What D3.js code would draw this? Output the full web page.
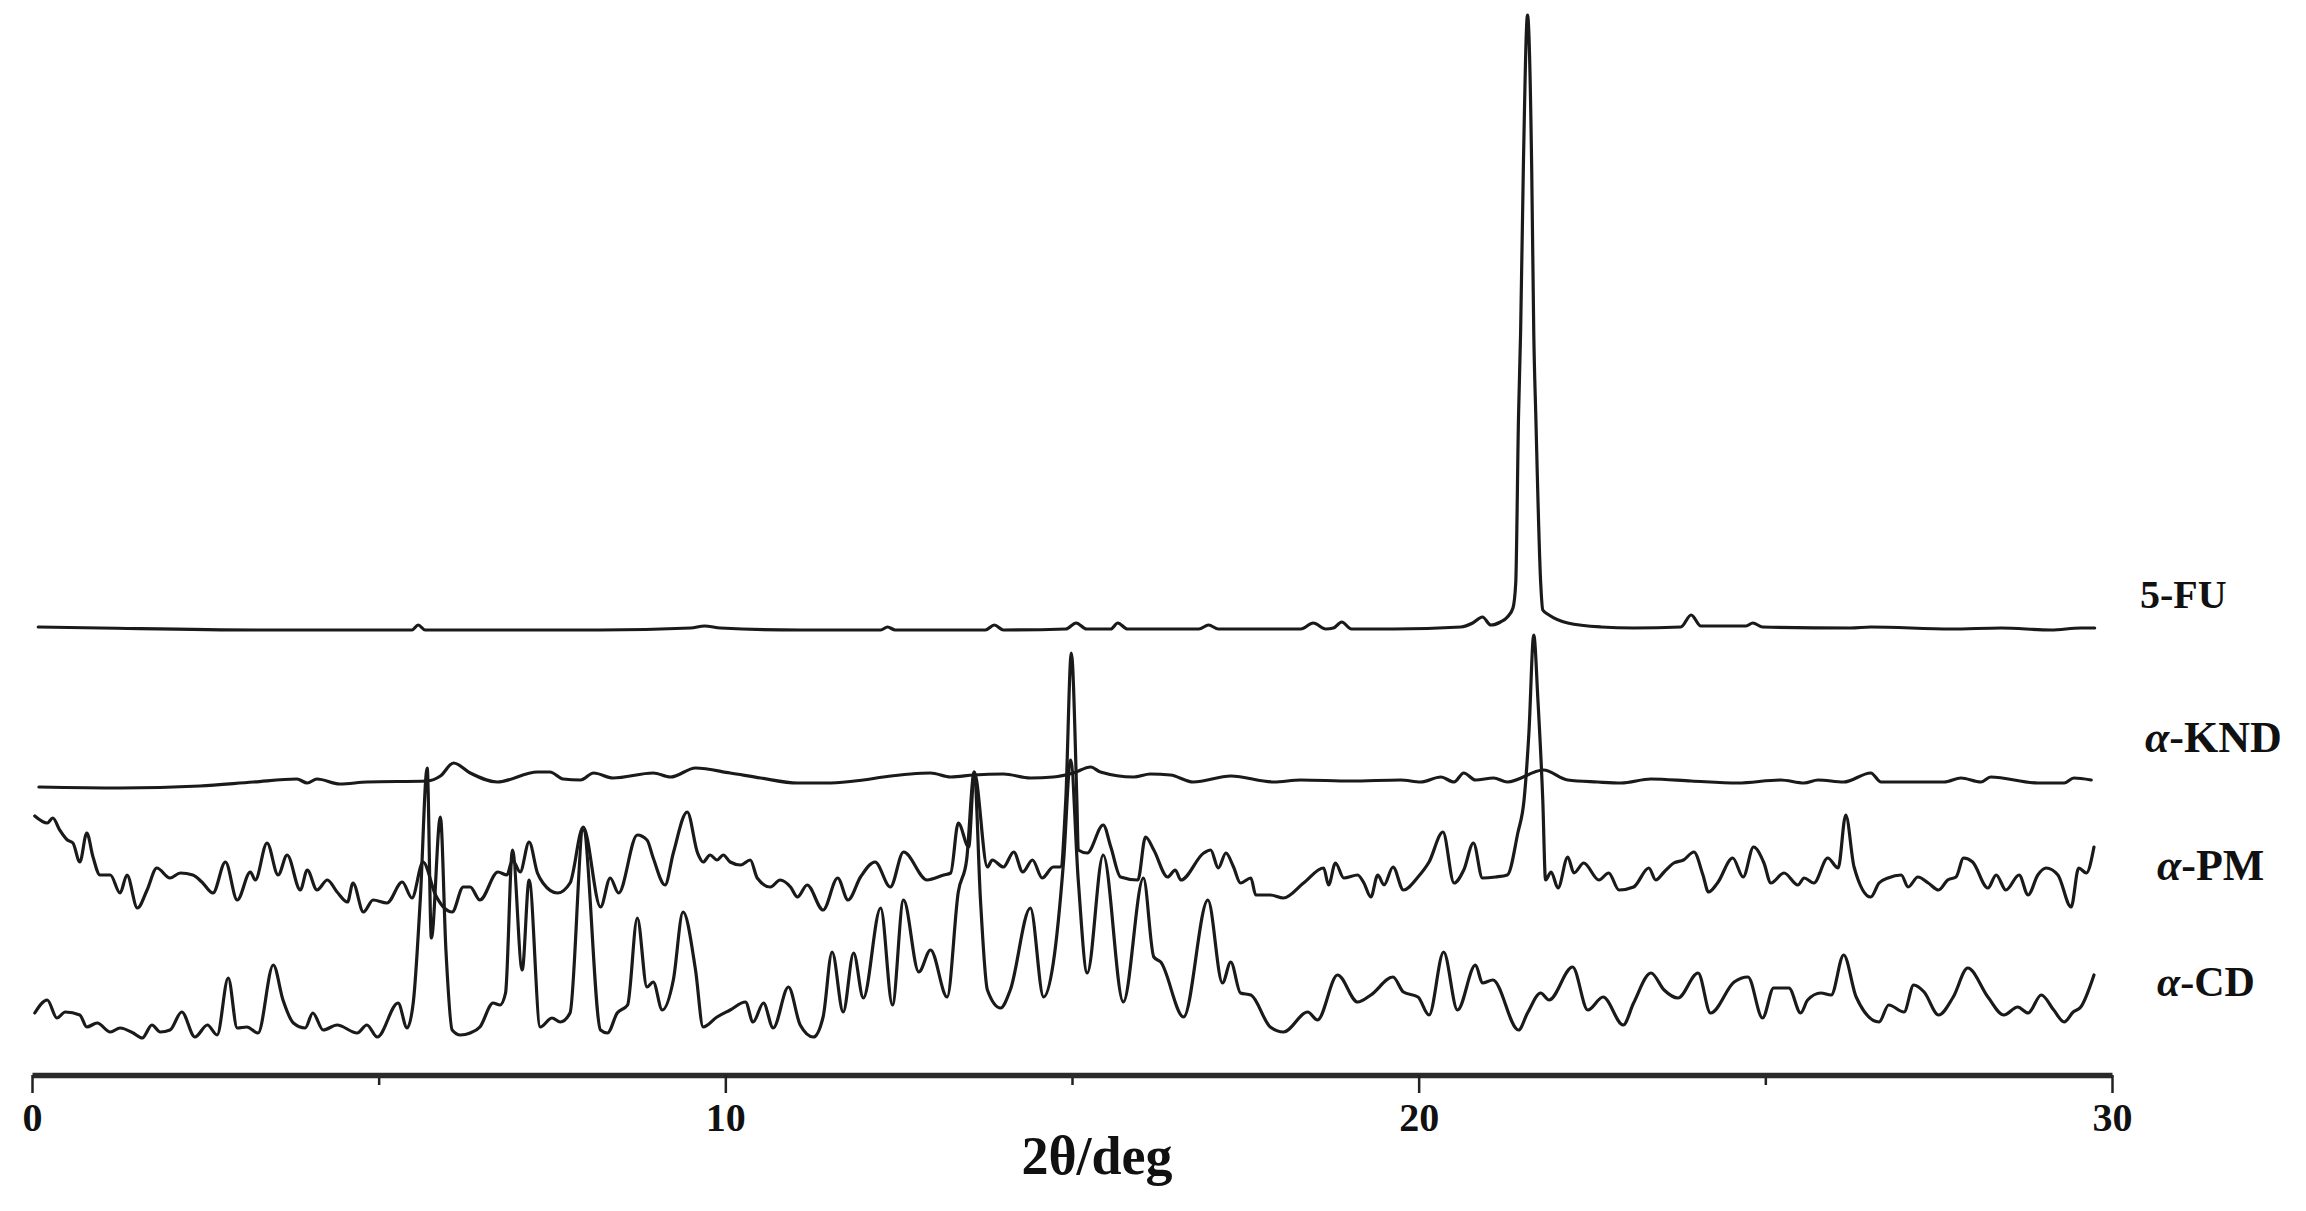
<!DOCTYPE html>
<html>
<head>
<meta charset="utf-8">
<script src="https://cdn.jsdelivr.net/npm/d3@7"></script>
<style>
  html, body { margin: 0; padding: 0; background: #fff; }
  svg { display: block; }
</style>
</head>
<body>
<svg id="chart" width="2306" height="1211"></svg>
<script>
// ---------------- DATA (2θ in degrees, intensity in arbitrary units) ----------------
const seriesNames = ["5-FU", "α-KND", "α-PM", "α-CD"];
const seriesOffsets = [440, 280, 150, 20];   // vertical stacking offsets (a.u.)

const xTicksMajor = [0, 10, 20, 30];
const xTicksMinor = [5, 15, 25];
const xTitle = "2θ/deg";

const fu5 = [
  [0.09,8],[0.98,7],[3.22,5],[5.31,5],[5.48,5],[5.57,10],[5.67,5],[8.20,5],[9.50,7],[9.70,9],[9.93,7],
  [11.08,5],[12.24,5],[12.34,8],[12.45,5],[13.75,5],[13.88,10],[14.01,5],[14.91,6],[15.06,12],[15.21,6],
  [15.56,6],[15.66,12],[15.80,6],[16.83,6],[16.97,10],[17.11,6],[18.30,6],[18.48,12],[18.66,6],[18.77,7],
  [18.89,13],[19.03,6],[19.64,6],[20.61,8],[20.78,12],[20.92,18],[21.04,10],[21.18,13],[21.28,18],[21.36,27],
  [21.40,52],[21.44,218],[21.47,302],[21.51,468],[21.57,620],[21.63,468],[21.66,302],[21.69,218],[21.76,52],
  [21.79,25],[21.88,20],[22.15,12],[22.63,8],[23.10,7],[23.78,8],[23.93,20],[24.07,9],[24.72,9],[24.82,12],
  [24.96,8],[26.23,7],[26.52,8],[27.68,6],[28.40,7],[29.12,5],[29.55,7],[29.75,7]
];

const knd = [
  [0.10,8],[1.27,7],[2.42,9],[3.19,13],[3.82,16],[3.97,12],[4.11,16],[4.44,11],[4.83,13],[5.70,14],[5.89,19],
  [6.08,32],[6.32,22],[6.71,13],[7.29,23],[7.47,23],[7.66,16],[7.91,15],[8.10,22],[8.38,17],[8.96,22],[9.21,18],
  [9.57,27],[10.07,22],[10.51,17],[11.04,12],[11.52,12],[11.99,15],[12.28,18],[12.96,22],[13.25,18],[13.58,20],
  [14.01,21],[14.40,17],[14.73,18],[15.02,22],[15.27,28],[15.41,23],[15.89,18],[16.13,21],[16.42,20],[16.75,13],
  [17.29,19],[17.91,13],[18.30,15],[19.02,14],[19.74,15],[20.03,13],[20.32,18],[20.51,13],[20.65,22],[20.82,15],
  [21.08,17],[21.28,13],[21.80,25],[22.15,15],[22.58,13],[22.92,12],[23.35,16],[23.93,14],[24.60,12],[25.22,15],
  [25.56,12],[25.76,15],[26.13,13],[26.52,22],[26.67,13],[27.58,13],[27.82,17],[28.11,13],[28.25,18],[28.93,12],
  [29.31,12],[29.45,17],[29.70,15]
];

const pm = [
  [0.04,109],[0.22,102],[0.30,107],[0.40,95],[0.51,85],[0.59,82],[0.69,63],[0.79,92],[0.88,68],[0.98,50],[1.13,50],
  [1.27,32],[1.37,50],[1.52,17],[1.66,35],[1.80,57],[1.99,47],[2.14,52],[2.32,50],[2.45,43],[2.61,32],[2.79,63],
  [2.96,25],[3.15,53],[3.22,45],[3.39,82],[3.55,50],[3.68,70],[3.87,35],[3.97,55],[4.11,35],[4.26,45],[4.40,33],
  [4.55,23],[4.63,42],[4.78,13],[4.92,25],[5.12,22],[5.34,43],[5.48,27],[5.64,63],[5.82,30],[6.06,13],[6.22,38],
  [6.32,38],[6.46,25],[6.72,53],[6.85,50],[6.93,65],[7.04,53],[7.17,83],[7.29,52],[7.37,42],[7.58,32],[7.76,42],
  [7.95,98],[8.20,18],[8.34,47],[8.46,32],[8.73,90],[8.87,85],[8.96,67],[9.13,40],[9.25,72],[9.45,113],[9.60,72],
  [9.68,63],[9.78,70],[9.88,65],[9.97,70],[10.07,63],[10.22,60],[10.36,65],[10.46,47],[10.65,38],[10.79,45],
  [10.94,38],[11.04,28],[11.18,40],[11.41,15],[11.62,47],[11.77,25],[11.95,48],[12.16,63],[12.38,38],[12.57,73],
  [12.91,45],[13.15,50],[13.25,52],[13.36,102],[13.51,78],[13.59,153],[13.78,58],[13.85,65],[14.01,58],[14.16,73],
  [14.29,53],[14.43,65],[14.57,47],[14.73,58],[14.83,58],[14.91,125],[14.99,272],[15.07,125],[15.09,75],[15.22,72],
  [15.45,100],[15.56,78],[15.70,48],[15.95,45],[16.06,88],[16.18,75],[16.38,48],[16.49,55],[16.57,45],[16.90,72],
  [17.00,75],[17.11,57],[17.22,72],[17.33,58],[17.43,42],[17.58,47],[17.65,30],[17.86,30],[18.05,27],[18.34,42],
  [18.63,57],[18.70,40],[18.80,62],[18.92,47],[19.12,50],[19.21,42],[19.31,28],[19.41,50],[19.50,40],[19.63,58],
  [19.78,35],[19.99,48],[20.15,63],[20.35,93],[20.51,42],[20.65,55],[20.79,82],[20.92,47],[21.11,48],[21.28,50],
  [21.43,92],[21.52,125],[21.59,192],[21.66,290],[21.72,225],[21.79,125],[21.83,45],[21.91,53],[22.01,37],[22.15,68],
  [22.24,52],[22.38,62],[22.60,45],[22.74,52],[22.89,35],[23.10,38],[23.32,57],[23.42,45],[23.54,53],[23.68,62],
  [23.82,65],[23.97,73],[24.10,50],[24.18,33],[24.31,42],[24.53,67],[24.68,48],[24.83,78],[24.98,62],[25.08,42],
  [25.27,52],[25.47,40],[25.56,47],[25.70,42],[25.90,67],[26.05,57],[26.16,110],[26.28,58],[26.52,28],[26.64,42],
  [26.77,47],[26.96,50],[27.06,38],[27.20,48],[27.35,42],[27.50,35],[27.63,45],[27.75,48],[27.86,67],[27.99,63],
  [28.21,37],[28.33,50],[28.47,35],[28.66,50],[28.79,30],[28.93,50],[29.05,57],[29.22,50],[29.41,18],[29.52,57],
  [29.63,52],[29.74,78]
];

const cd = [
  [0.04,42],[0.22,55],[0.36,37],[0.48,43],[0.69,40],[0.79,28],[0.94,32],[1.13,23],[1.27,27],[1.46,22],[1.59,17],
  [1.73,30],[1.85,23],[1.99,25],[2.16,43],[2.35,18],[2.53,30],[2.67,20],[2.83,77],[2.96,27],[3.10,28],[3.26,22],
  [3.48,90],[3.62,55],[3.77,32],[3.94,27],[4.05,42],[4.20,25],[4.40,30],[4.69,22],[4.83,30],[4.98,18],[5.28,52],
  [5.41,27],[5.50,53],[5.60,155],[5.70,287],[5.76,117],[5.89,238],[5.97,105],[6.06,25],[6.18,20],[6.32,22],
  [6.46,28],[6.65,52],[6.75,50],[6.83,62],[6.93,205],[7.07,85],[7.17,175],[7.33,28],[7.50,37],[7.62,33],[7.76,42],
  [7.95,225],[8.20,25],[8.30,22],[8.44,42],[8.59,50],[8.73,137],[8.87,68],[8.96,73],[9.09,45],[9.25,75],[9.39,143],
  [9.57,85],[9.68,28],[9.88,38],[10.07,45],[10.29,53],[10.40,33],[10.55,52],[10.69,27],[10.91,68],[11.08,30],
  [11.27,18],[11.41,38],[11.54,103],[11.70,43],[11.85,102],[11.99,57],[12.24,147],[12.41,50],[12.57,155],[12.79,83],
  [12.96,105],[13.20,58],[13.36,163],[13.48,195],[13.59,283],[13.68,155],[13.78,65],[13.97,47],[14.11,65],[14.40,147],
  [14.59,58],[14.73,92],[14.88,195],[14.98,295],[15.09,175],[15.22,82],[15.45,200],[15.74,53],[16.03,177],[16.18,98],
  [16.28,93],[16.61,38],[16.96,155],[17.17,72],[17.29,93],[17.43,62],[17.58,60],[17.86,28],[18.05,23],[18.40,43],
  [18.54,35],[18.83,80],[19.12,53],[19.31,60],[19.63,78],[19.78,63],[19.99,58],[20.15,40],[20.36,103],[20.56,45],
  [20.82,90],[20.92,72],[21.07,75],[21.44,25],[21.57,42],[21.76,62],[21.88,55],[22.22,88],[22.44,45],[22.66,58],
  [22.95,30],[23.10,52],[23.35,82],[23.54,65],[23.74,57],[24.03,82],[24.21,42],[24.55,73],[24.75,78],[24.96,37],
  [25.12,67],[25.34,67],[25.51,42],[25.61,55],[25.80,62],[25.95,60],[26.13,100],[26.31,58],[26.64,33],[26.78,50],
  [27.00,43],[27.14,70],[27.29,63],[27.50,40],[27.71,58],[27.92,87],[28.21,58],[28.44,40],[28.64,48],[28.79,42],
  [28.98,60],[29.16,45],[29.31,33],[29.44,43],[29.55,48],[29.74,80]
];

const seriesData = [fu5, knd, pm, cd];

// ---------------- DRAWING ----------------
const svg = d3.select("#chart");
svg.append("rect").attr("width", 2306).attr("height", 1211).attr("fill", "#fff");

const x = d3.scaleLinear().domain([0, 30]).range([32, 2112]);
const y = d3.scaleLinear().domain([0, 1060]).range([1075, 15]);

const ink = "#1a1a1a";

seriesData.forEach((data, i) => {
  const off = seriesOffsets[i];
  const line = d3.line()
    .x(d => x(d[0]))
    .y(d => y(off + d[1]))
    .curve(d3.curveMonotoneX);
  svg.append("path")
    .datum(data)
    .attr("d", line)
    .attr("fill", "none")
    .attr("stroke", ink)
    .attr("stroke-width", 3.2)
    .attr("stroke-linejoin", "round")
    .attr("stroke-linecap", "round");
});

// Axis
const axisY = 1075;
const gMinor = svg.append("g").attr("transform", `translate(0,${axisY})`)
  .call(d3.axisBottom(x).tickValues(xTicksMinor).tickSize(10).tickSizeOuter(0).tickFormat(""));
gMinor.select(".domain").remove();
gMinor.selectAll(".tick line").attr("stroke", "#222").attr("stroke-width", 2.5);

const gAxis = svg.append("g").attr("transform", `translate(0,${axisY})`)
  .call(d3.axisBottom(x).tickValues(xTicksMajor).tickSize(18).tickSizeOuter(0).tickPadding(10).tickFormat(d3.format("d")));
gAxis.select(".domain").attr("stroke", "#2a2a2a").attr("stroke-width", 5.5);
gAxis.selectAll(".tick line").attr("stroke", "#222").attr("stroke-width", 2.5);
gAxis.selectAll(".tick text")
  .attr("fill", "#111")
  .style("font-family", "'Liberation Serif', 'Times New Roman', serif")
  .style("font-weight", "bold")
  .style("font-size", "40px");

// Axis title
svg.append("text")
  .attr("x", 1097).attr("y", 1174)
  .attr("text-anchor", "middle")
  .attr("fill", "#111")
  .style("font-family", "'Liberation Serif', 'Times New Roman', serif")
  .style("font-weight", "bold")
  .style("font-size", "54px")
  .text(xTitle);

// Series labels
const labelPos = [[2140, 608], [2145, 752], [2157, 880], [2157, 996]];
const labelSize = [40, 44, 44, 42];
seriesNames.forEach((name, i) => {
  const t = svg.append("text")
    .attr("x", labelPos[i][0]).attr("y", labelPos[i][1])
    .attr("fill", "#111")
    .style("font-family", "'Liberation Serif', 'Times New Roman', serif")
    .style("font-weight", "bold")
    .style("font-size", labelSize[i] + "px");
  if (name.startsWith("α")) {
    t.append("tspan").style("font-style", "italic").text("α");
    t.append("tspan").text(name.slice(1));
  } else {
    t.text(name);
  }
});
</script>
</body>
</html>
